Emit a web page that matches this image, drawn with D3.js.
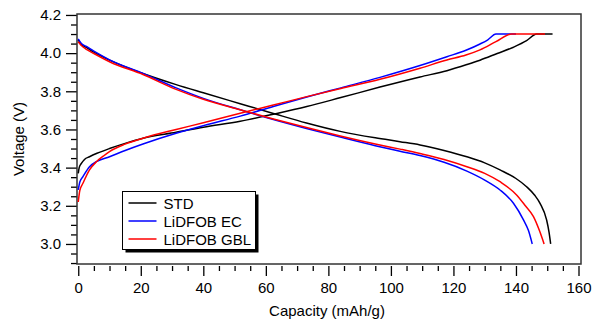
<!DOCTYPE html>
<html>
<head>
<meta charset="utf-8">
<script src="https://cdn.jsdelivr.net/npm/d3@7"></script>
<style>
  body { margin: 0; background: #fff; }
  svg text { font-family: "Liberation Sans", Arial, Helvetica, sans-serif; fill: #000; }
</style>
</head>
<body>
<div id="main"></div>
<script>
// capacity (mAh/g), voltage (V)
const seriesNames = ['STD', 'LiDFOB EC', 'LiDFOB GBL'];
const seriesColors = ['#000000', '#0000ff', '#ff0000'];

const stdCharge = [[0,3.37],[0.3,3.40],[1,3.422],[2,3.443],[3.6,3.457],[6,3.475],[10,3.50],[15,3.527],[20.7,3.554],[31.3,3.585],[40,3.612],[51.8,3.643],[62.4,3.68],[73.1,3.72],[84,3.767],[96.5,3.822],[109.3,3.875],[117.9,3.908],[124.3,3.94],[128.5,3.963],[134,3.998],[139.2,4.031],[143.4,4.065],[146.6,4.1],[151.7,4.1]];
const ecCharge = [[0,3.283],[0.5,3.325],[1.5,3.353],[3.6,3.405],[5.8,3.431],[10,3.457],[15,3.49],[20.7,3.524],[31.3,3.58],[40,3.62],[51.8,3.67],[62.4,3.72],[73.1,3.77],[84,3.818],[96.5,3.873],[109.3,3.935],[117.9,3.981],[124,4.015],[128.5,4.048],[131,4.07],[133.6,4.1],[140,4.1]];
const gblCharge = [[0,3.22],[0.5,3.28],[1.5,3.318],[3.6,3.388],[5.8,3.431],[8,3.46],[10,3.484],[15,3.523],[20.7,3.554],[31.3,3.6],[40,3.635],[51.8,3.685],[62.4,3.728],[73.1,3.772],[84,3.815],[96.5,3.863],[109.3,3.921],[117.9,3.964],[124,3.99],[128.5,4.017],[133.6,4.06],[138.6,4.1],[149.3,4.1]];

const stdDischarge = [[0,4.07],[0.5,4.055],[1,4.045],[2.6,4.03],[5,4.005],[10,3.963],[20,3.897],[31.3,3.835],[40,3.792],[51.8,3.735],[62.4,3.684],[73,3.634],[83.8,3.59],[95,3.556],[102.9,3.536],[109.3,3.519],[117,3.49],[124.3,3.457],[130,3.425],[134.9,3.388],[140,3.343],[143.4,3.30],[146,3.255],[147.7,3.213],[149.8,3.126],[150.6,3.06],[151.1,3.0]];
const ecDischarge = [[0,4.075],[1,4.05],[2.6,4.035],[5,4.01],[10,3.965],[20.7,3.894],[31.3,3.818],[40,3.763],[51.8,3.703],[62.4,3.652],[73,3.605],[83.8,3.56],[95,3.515],[102.9,3.486],[109.3,3.463],[117,3.428],[124.3,3.382],[130,3.335],[134.9,3.283],[139.2,3.213],[142.4,3.126],[144,3.07],[145.2,3.0]];
const gblDischarge = [[0,4.06],[1,4.04],[2.6,4.02],[5,3.998],[10,3.955],[20.7,3.888],[31.3,3.81],[40,3.758],[51.8,3.703],[62.4,3.655],[73,3.61],[83.8,3.566],[95,3.524],[102.9,3.497],[109.3,3.474],[117,3.443],[124.3,3.405],[130,3.37],[134.9,3.326],[140.2,3.257],[143,3.2],[145.6,3.143],[147.5,3.07],[149,3.0]];

const xTicks = [0, 20, 40, 60, 80, 100, 120, 140, 160];
const yTicks = [3.0, 3.2, 3.4, 3.6, 3.8, 4.0, 4.2];

const w = 592, h = 320;
const padLeft = 77, padRight = 581, padTop = 14, padBottom = 264;

const svg = d3.select('#main')
    .append('svg')
    .attr('width', w)
    .attr('height', h)

const x = d3.scaleLinear().domain([-0.4, 160.8]).range([padLeft, padRight]);
const y = d3.scaleLinear().domain([2.895, 4.205]).range([padBottom, padTop]);

const xMinor = d3.range(0, 161, 5).filter(v => v % 20 !== 0);
const yMinor = d3.range(2.9, 4.2001, 0.05).filter(v => Math.abs(v * 5 - Math.round(v * 5)) > 0.01);

// minor ticks first, majors with labels on top
svg.append('g')
    .attr('transform', 'translate(' + padLeft + ',0)')
    .call(d3.axisLeft(y).tickValues(yMinor).tickSize(6).tickFormat(''))
    .call(g => g.select('.domain').remove());

svg.append('g')
    .attr('id', 'y-axis')
    .attr('transform', 'translate(' + padLeft + ',0)')
    .call(d3.axisLeft(y).tickValues(yTicks).tickSize(11).tickPadding(5).tickFormat(d3.format('.1f')))
    .call(g => g.select('.domain').remove());

svg.append('g')
    .attr('transform', 'translate(0,266)')
    .call(d3.axisBottom(x).tickValues(xMinor).tickSize(5).tickFormat(''))
    .call(g => g.select('.domain').remove());

svg.append('g')
    .attr('id', 'x-axis')
    .attr('transform', 'translate(0,266)')
    .call(d3.axisBottom(x).tickValues(xTicks).tickSize(10).tickPadding(6).tickFormat(d3.format('d')))
    .call(g => g.select('.domain').remove());

svg.selectAll('.tick line').attr('stroke', '#000').attr('stroke-width', 1.3);
svg.selectAll('.tick text').style('font-size', '15px');

// plot frame
svg.append('rect')
    .attr('x', padLeft)
    .attr('y', padTop)
    .attr('width', padRight - padLeft)
    .attr('height', padBottom - padTop)
    .attr('fill', 'none')
    .attr('stroke', '#333')
    .attr('stroke-width', 1.5)

const line = d3.line()
    .x(d => x(d[0]))
    .y(d => y(d[1]))
    .curve(d3.curveMonotoneX);

const curves = [
    [stdCharge, 0], [stdDischarge, 0],
    [ecCharge, 1], [ecDischarge, 1],
    [gblCharge, 2], [gblDischarge, 2]
];

svg.selectAll('path.curve')
    .data(curves)
    .enter()
    .append('path')
    .attr('class', 'curve')
    .attr('d', d => line(d[0]))
    .attr('fill', 'none')
    .attr('stroke', d => seriesColors[d[1]])
    .attr('stroke-width', 1.5)

// legend with drop shadow
const lg = svg.append('g').attr('transform', 'translate(122.5,191.5)');
lg.append('rect').attr('x', 3).attr('y', 3).attr('width', 133).attr('height', 58).attr('fill', '#000');
lg.append('rect').attr('width', 133).attr('height', 58).attr('fill', '#fff').attr('stroke', '#000').attr('stroke-width', 1);

seriesNames.forEach((name, i) => {
    const cy = 11.5 + i * 18;
    lg.append('line')
        .attr('x1', 6).attr('x2', 34)
        .attr('y1', cy).attr('y2', cy)
        .attr('stroke', seriesColors[i])
        .attr('stroke-width', 1.5)
    lg.append('text')
        .text(name)
        .attr('x', 41)
        .attr('y', cy + 5.5)
        .style('font-size', '15px')
});

svg.append('text')
    .text('Capacity (mAh/g)')
    .attr('x', 327)
    .attr('y', 316)
    .attr('text-anchor', 'middle')
    .style('font-size', '15px')

svg.append('text')
    .text('Voltage (V)')
    .attr('transform', 'translate(24,139) rotate(-90)')
    .attr('text-anchor', 'middle')
    .style('font-size', '15px')
</script>
</body>
</html>
